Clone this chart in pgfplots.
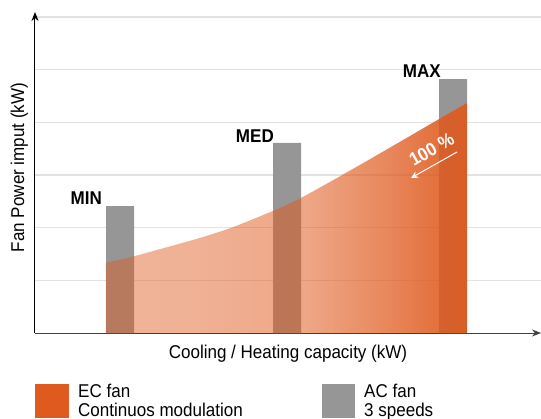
\documentclass[border=0pt]{standalone}
\usepackage{fontspec}
\setmainfont{Liberation Sans}[FakeStretch=0.92]
\usepackage{pgfplots}
\pgfplotsset{compat=1.18}
\usetikzlibrary{fadings,arrows.meta}
\definecolor{ecorange}{RGB}{223,90,30}
\definecolor{acgray}{RGB}{150,150,150}
\definecolor{gridgray}{RGB}{226,226,226}
\pgfdeclarehorizontalshading{ecshade}{2cm}{color(0cm)=(black!55); color(0.52cm)=(black!53); color(1.08cm)=(black!47); color(1.5cm)=(black!27); color(1.8cm)=(black!10); color(2cm)=(black!5)}
\pgfdeclarefading{ecfade}{\pgfuseshading{ecshade}}
\newcommand{\lbl}{\fontsize{18.5bp}{22bp}\selectfont}
\begin{document}
\begin{tikzpicture}
\useasboundingbox (-35bp,-86bp) rectangle (506bp,333bp);
\begin{axis}[
  scale only axis, width=506bp, height=321bp,
  xmin=0, xmax=506, ymin=0, ymax=6.095,
  axis x line=bottom, axis y line=left,
  x axis line style={-{Stealth[length=9bp,width=7bp]}, draw=black!75, line width=1bp},
  y axis line style={-{Stealth[length=9bp,width=7bp]}, draw=black, line width=1bp},
  xtick=\empty, ytick={1,2,3,4,5,6}, yticklabels={},
  major tick length=0pt,
  ymajorgrids, grid style={draw=gridgray, line width=1.3bp},
  clip=false,
  xlabel={Cooling / Heating capacity (kW)},
  ylabel={Fan Power imput (kW)},
  xlabel style={at={(axis description cs:0.5,0)}, anchor=base, yshift=-25bp, inner sep=0pt, font=\lbl},
  ylabel style={at={(axis description cs:-0.0217,0.5156)}, anchor=base, inner sep=0pt, font=\lbl},
]
\addplot[ybar, bar width=28, fill=acgray, draw=none] coordinates {(85,2.41) (252,3.61) (418,4.82)};
\addplot[fill=ecorange, draw=none, smooth, tension=0.4, path fading=ecfade, fit fading=true] coordinates {
 (71,1.335) (98,1.452) (125,1.592) (165,1.805) (198,2.010) (238,2.318) (265,2.555)
 (298,2.900) (332,3.268) (365,3.630) (404,4.060) (432,4.365)} \closedcycle;
\node[anchor=base east, inner sep=0pt, font=\lbl\bfseries] at (axis cs:67,2.449) {MIN};
\node[anchor=base east, inner sep=0pt, font=\lbl\bfseries] at (axis cs:239,3.626) {MED};
\node[anchor=base east, inner sep=0pt, font=\lbl\bfseries] at (axis cs:406,4.86) {MAX};
\node[white, rotate=30, inner sep=0pt, font=\lbl\bfseries] at (axis cs:396.7,3.488) {100 \%};
\draw[white, line width=1bp, -{Stealth[length=7bp,width=7bp]}] (axis cs:422,3.437) -- (axis cs:376,2.943);
\end{axis}
\fill[ecorange] (0bp,-51bp) rectangle (34bp,-85bp);
\node[anchor=base west, inner sep=0pt, font=\lbl] at (43bp,-64bp) {EC fan};
\node[anchor=base west, inner sep=0pt, font=\lbl] at (43bp,-83bp) {Continuos modulation};
\fill[acgray] (287bp,-51bp) rectangle (320bp,-85bp);
\node[anchor=base west, inner sep=0pt, font=\lbl] at (329bp,-64bp) {AC fan};
\node[anchor=base west, inner sep=0pt, font=\lbl] at (329bp,-83bp) {3 speeds};
\end{tikzpicture}
\end{document}
